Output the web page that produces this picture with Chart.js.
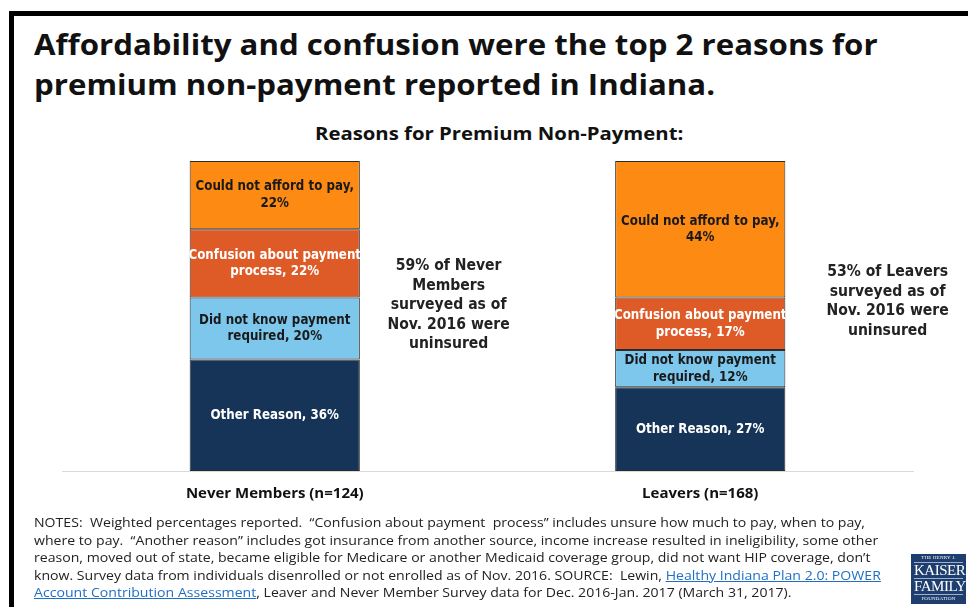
<!DOCTYPE html>
<html lang="en">
<head>
    <meta charset="UTF-8">
    <title>Reasons for Premium Non-Payment</title>
    <script src="https://cdn.jsdelivr.net/npm/chart.js"></script>
    <style>
        html, body {
            margin: 0;
            padding: 0;
            background: #fff;
        }

        #page {
            position: relative;
            width: 968px;
            height: 607px;
            overflow: hidden;
            font-family: "Open Sans", sans-serif;
            color: #111;
        }

        .frame {
            position: absolute;
            left: 9px;
            top: 11px;
            width: 980px;
            height: 620px;
            border-top: 5px solid #000;
            border-left: 5px solid #000;
        }

        .fit {
            position: absolute;
            white-space: nowrap;
            transform-origin: 0 0;
            margin: 0;
        }

        .title {
            left: 34px;
            top: 24px;
            font-size: 29px;
            font-weight: 700;
            line-height: 40px;
        }

        .subtitle {
            left: 315px;
            top: 121px;
            font-size: 18px;
            font-weight: 700;
        }

        .callout {
            font-family: "DejaVu Sans", sans-serif;
            font-weight: bold;
            font-size: 15.5px;
            line-height: 19.5px;
            text-align: center;
            color: #222;
            transform-origin: 50% 0;
        }

        .notes {
            left: 34px;
            top: 514px;
            font-size: 13.5px;
            line-height: 17.6px;
            color: #222;
        }

        .notes a {
            color: #1f6fc5;
            text-decoration: underline;
        }

        .chart-box {
            position: absolute;
            left: 0;
            top: 150px;
            width: 968px;
            height: 367px;
        }

        .logo {
            position: absolute;
            left: 911px;
            top: 554px;
            width: 55px;
            height: 50px;
            background: #1d3e6e;
            color: #fff;
            font-family: "Liberation Serif", serif;
            text-align: center;
        }

        .logo .small {
            font-size: 5px;
            line-height: 8px;
            letter-spacing: 0.2px;
        }

        .logo .big {
            font-size: 15px;
            line-height: 15px;
            letter-spacing: -0.5px;
            border-top: 1px solid #9fb0c8;
            margin: 0 3px;
        }

        .logo .big + .small {
            border-top: 1px solid #9fb0c8;
            margin: 0 3px;
        }
    </style>
</head>
<body>
    <div id="page">
        <div class="frame"></div>

        <h1 class="fit title" data-width="844">Affordability and confusion were the top 2 reasons for<br>premium non-payment reported in Indiana.</h1>
        <div class="fit subtitle" data-width="368">Reasons for Premium Non-Payment:</div>

        <div class="chart-box"><canvas id="chart"></canvas></div>

        <div class="fit callout" id="callout1" data-width="122" data-center="448" style="top: 256px;">59% of Never<br>Members<br>surveyed as of<br>Nov. 2016 were<br>uninsured</div>
        <div class="fit callout" id="callout2" data-width="122" data-center="887" style="top: 262px;">53% of Leavers<br>surveyed as of<br>Nov. 2016 were<br>uninsured</div>

        <p class="fit notes" data-width="847">NOTES:&nbsp; Weighted percentages reported.&nbsp; “Confusion about payment&nbsp; process” includes unsure how much to pay, when to pay,<br>where to pay.&nbsp; “Another reason” includes got insurance from another source, income increase resulted in ineligibility, some other<br>reason, moved out of state, became eligible for Medicare or another Medicaid coverage group, did not want HIP coverage, don’t<br>know. Survey data from individuals disenrolled or not enrolled as of Nov. 2016. SOURCE:&nbsp; Lewin, <a href="#">Healthy Indiana Plan 2.0: POWER<br>Account Contribution Assessment</a>, Leaver and Never Member Survey data for Dec. 2016-Jan. 2017 (March 31, 2017).</p>

        <div class="logo">
            <div class="small">THE HENRY J.</div>
            <div class="big">KAISER</div>
            <div class="big">FAMILY</div>
            <div class="small">FOUNDATION</div>
        </div>
    </div>

    <script>
        // chart data (percent of respondents, bottom segment first)
        const categories = ['Never Members (n=124)', 'Leavers (n=168)'];
        const otherReason = [36, 27];
        const didNotKnow = [20, 12];
        const confusion = [22, 17];
        const couldNotAfford = [22, 44];

        // label text per segment, {v} is replaced by the value
        const labelTemplates = [
            'Other Reason, {v}%',
            'Did not know payment\nrequired, {v}%',
            'Confusion about payment\nprocess, {v}%',
            'Could not afford to pay,\n{v}%'
        ];

        // squeeze text blocks horizontally so they span the same width as the original
        function fitText() {
            document.querySelectorAll('.fit').forEach(el => {
                let natural = el.offsetWidth;
                if (el.classList.contains('callout')) {
                    // measure the "Nov. 2016 were" line
                    const probe = document.createElement('span');
                    probe.style.font = getComputedStyle(el).font;
                    probe.style.position = 'absolute';
                    probe.style.visibility = 'hidden';
                    probe.textContent = 'Nov. 2016 were';
                    document.body.appendChild(probe);
                    natural = probe.offsetWidth;
                    probe.remove();
                }
                const sx = el.dataset.width / natural;
                if (el.dataset.center) {
                    el.style.left = (el.dataset.center - el.offsetWidth / 2) + 'px';
                }
                el.style.transform = `scaleX(${sx})`;
            });
        }

        const segmentLabels = {
            id: 'segmentLabels',
            afterDatasetsDraw(chart) {
                const ctx = chart.ctx;
                chart.data.datasets.forEach((ds, i) => {
                    chart.getDatasetMeta(i).data.forEach((bar, j) => {
                        const lines = ds.labelTemplate.replace('{v}', ds.data[j]).split('\n');
                        const left = bar.x - bar.width / 2;
                        const top = bar.y;
                        const h = bar.base - bar.y;
                        ctx.save();
                        ctx.beginPath();
                        ctx.rect(left, top, bar.width, h);
                        ctx.clip();
                        ctx.translate(bar.x, top + h / 2);
                        ctx.scale(0.85, 1);
                        ctx.font = 'bold 14px "DejaVu Sans"';
                        ctx.fillStyle = ds.labelColor;
                        ctx.textAlign = 'center';
                        ctx.textBaseline = 'middle';
                        const lh = 16.5;
                        lines.forEach((line, k) => {
                            ctx.fillText(line, 0, (k - (lines.length - 1) / 2) * lh);
                        });
                        ctx.restore();
                    });
                });
            }
        };

        function makeDataset(label, data, color, labelColor, template) {
            return {
                label: label,
                data: data,
                backgroundColor: color,
                borderColor: '#2b2b2b',
                borderWidth: 1,
                borderSkipped: false,
                labelColor: labelColor,
                labelTemplate: template,
                categoryPercentage: 1,
                barPercentage: 0.4
            };
        }

        window.onload = function () {
            fitText();

            new Chart(document.getElementById('chart'), {
                type: 'bar',
                data: {
                    labels: categories,
                    datasets: [
                        makeDataset('Other Reason', otherReason, '#163457', '#ffffff', labelTemplates[0]),
                        makeDataset('Did not know payment required', didNotKnow, '#7dc6ec', '#1a1a1a', labelTemplates[1]),
                        makeDataset('Confusion about payment process', confusion, '#de5a27', '#ffffff', labelTemplates[2]),
                        makeDataset('Could not afford to pay', couldNotAfford, '#fd8a12', '#1a1a1a', labelTemplates[3])
                    ]
                },
                options: {
                    responsive: true,
                    maintainAspectRatio: false,
                    animation: false,
                    layout: {
                        padding: { left: 62, right: 55, top: 11, bottom: 0 }
                    },
                    plugins: {
                        legend: { display: false },
                        tooltip: { enabled: false }
                    },
                    scales: {
                        x: {
                            stacked: true,
                            grid: { display: false, drawTicks: false },
                            border: { color: '#d9d9d9', width: 1 },
                            ticks: {
                                color: '#111',
                                padding: 14,
                                font: { family: 'Open Sans', size: 15, weight: 'bold' }
                            }
                        },
                        y: {
                            stacked: true,
                            display: false,
                            min: 0,
                            max: 100
                        }
                    }
                },
                plugins: [segmentLabels]
            });
        };
    </script>
</body>
</html>
